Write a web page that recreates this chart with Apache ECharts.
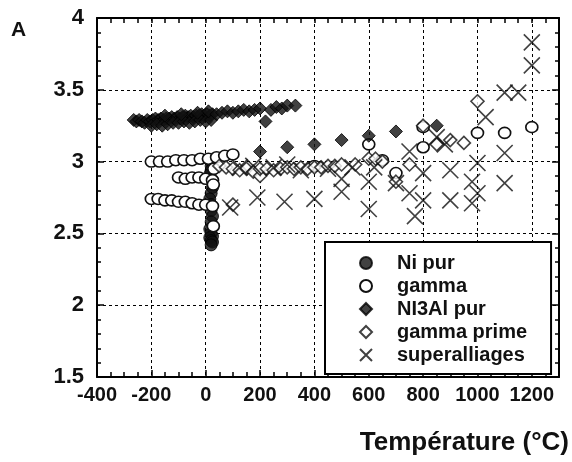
<!DOCTYPE html>
<html>
<head>
<meta charset="utf-8">
<script src="https://cdn.jsdelivr.net/npm/echarts@6/dist/echarts.min.js"></script>
<style>html,body{margin:0;padding:0;background:#fff}#chart{width:572px;height:462px}</style>
</head>
<body>
<div id="chart"></div>
<script>
// x tick labels (°C) and y tick labels (A)
const xTicks = [-400, -200, 0, 200, 400, 600, 800, 1000, 1200];
const yTicks = [1.5, 2, 2.5, 3, 3.5, 4];
const seriesNames = ['Ni pur', 'gamma', 'NI3Al pur', 'gamma prime', 'superalliages'];

// Ni pur (filled circles)
const niPur = [[20,3.00],[20,2.97],[20,2.94],[15,2.91],[20,2.88],[25,2.82],[20,2.78],[15,2.74],[20,2.70],[20,2.66],[25,2.62],[20,2.58],[15,2.53],[20,2.50],[25,2.48],[15,2.47],[20,2.45],[25,2.44],[20,2.42]];

// gamma (open circles)
const gamma = [[-200,3.00],[-170,3.00],[-140,3.00],[-110,3.01],[-80,3.01],[-50,3.01],[-20,3.02],[10,3.02],[40,3.03],[70,3.04],[100,3.05],
  [-100,2.89],[-75,2.88],[-50,2.89],[-25,2.89],[0,2.88],[25,2.87],
  [-200,2.74],[-175,2.74],[-150,2.73],[-125,2.73],[-100,2.72],[-75,2.72],[-50,2.71],[-25,2.70],[0,2.70],[25,2.69],
  [30,2.95],[28,2.84],[28,2.55],
  [400,2.97],[600,3.12],[650,3.01],[700,2.92],[800,3.24],[800,3.10],[1000,3.20],[1100,3.20],[1200,3.24]];

// NI3Al pur (filled diamonds)
const ni3al = [[-265,3.29],[-255,3.28],[-245,3.29],[-235,3.28],[-225,3.27],[-215,3.29],[-205,3.28],[-195,3.29],[-185,3.30],[-175,3.29],[-165,3.30],[-155,3.29],[-145,3.30],[-135,3.30],[-125,3.31],[-115,3.30],[-105,3.31],[-95,3.30],[-85,3.31],[-75,3.32],[-65,3.31],[-55,3.32],[-45,3.31],[-35,3.32],[-25,3.32],[-15,3.33],[-5,3.32],[5,3.33],[15,3.32],[25,3.33],
  [-200,3.25],[-180,3.26],[-160,3.25],[-140,3.26],[-120,3.27],[-100,3.27],[-80,3.28],[-60,3.27],[-40,3.28],[-20,3.29],[0,3.28],[20,3.29],
  [-150,3.32],[-90,3.33],[-30,3.34],[10,3.35],
  [40,3.33],[60,3.34],[80,3.35],[100,3.34],[120,3.35],[140,3.36],[160,3.35],[180,3.36],[200,3.37],[220,3.28],[240,3.36],[260,3.38],[280,3.37],[300,3.39],[330,3.39],
  [200,3.07],[300,3.10],[400,3.12],[500,3.15],[600,3.18],[700,3.21],[850,3.25]];

// gamma prime (open diamonds)
const gammaPrime = [[50,2.97],[75,2.96],[100,2.95],[100,2.70],[125,2.94],[150,2.95],[175,2.93],[200,2.90],[200,2.95],[225,2.95],[250,2.94],[275,2.95],[300,2.96],[325,2.95],[350,2.96],[375,2.95],[400,2.96],[425,2.96],[450,2.97],[475,2.97],[500,2.98],[550,2.98],[600,3.02],[625,3.02],[650,3.00],[700,2.86],[750,2.98],[800,3.25],[850,3.12],[900,3.15],[950,3.13],[1000,3.42]];

// superalliages (crosses)
const superalliages = [[90,2.68],[190,2.75],[290,2.72],[400,2.74],[500,2.88],[500,2.79],[600,2.86],[600,2.67],[700,2.85],[750,2.78],[770,2.62],[800,2.92],[800,2.73],[750,3.07],[900,2.94],[900,2.73],[1000,2.99],[980,2.86],[1000,2.78],[980,2.71],[1100,3.06],[1100,2.85],[1030,3.31],[1100,3.48],[1150,3.48],[1200,3.83],[1200,3.67],
  [125,2.96],[175,2.97],[250,2.96],[300,2.98],[350,2.94],[450,2.95],[540,2.96],[620,2.96],[850,3.17],[880,3.12]];

const chart = echarts.init(document.getElementById('chart'), null, {renderer: 'canvas'});
const gridLine = {show: true, lineStyle: {color: '#000', width: 1, type: [3, 3]}};
const cross = 'path://M0,0L10,10M10,0L0,10';
const tickFontX = {fontFamily: "'Liberation Sans', Arial, sans-serif", fontWeight: 'bold', fontSize: 20, color: '#111'};
const tickFontY = {fontFamily: "'Liberation Sans', Arial, sans-serif", fontWeight: 'bold', fontSize: 22, color: '#111'};

const option = {
  animation: false,
  backgroundColor: '#fff',
  grid: {left: 97, right: 13, top: 18, bottom: 85, containLabel: false},
  xAxis: [
    {type: 'value', position: 'bottom', min: -400, max: 1300, interval: 200,
     axisLine: {show: true, onZero: false, lineStyle: {color: '#000', width: 2}},
     axisTick: {show: true, inside: true, length: 7, lineStyle: {color: '#000', width: 1.5}},
     axisLabel: {show: true, margin: 8, showMaxLabel: false,
       formatter: v => xTicks.includes(v) ? String(v) : '', ...tickFontX},
     splitLine: gridLine},
    {type: 'value', position: 'bottom', min: -400, max: 1300, interval: 50,
     axisLine: {show: false, onZero: false}, axisLabel: {show: false}, splitLine: {show: false},
     axisTick: {show: true, inside: true, length: 5, lineStyle: {color: '#000', width: 1.5}}},
    {type: 'value', position: 'top', min: -400, max: 1300, interval: 50,
     axisLine: {show: true, onZero: false, lineStyle: {color: '#000', width: 2}}, axisLabel: {show: false}, splitLine: {show: false},
     axisTick: {show: true, inside: true, length: 5, lineStyle: {color: '#000', width: 1.5}}}
  ],
  yAxis: [
    {type: 'value', position: 'left', min: 1.5, max: 4, interval: 0.5,
     axisLine: {show: true, onZero: false, lineStyle: {color: '#000', width: 2}},
     axisTick: {show: true, inside: true, length: 7, lineStyle: {color: '#000', width: 1.5}},
     minorTick: {show: true, splitNumber: 5, length: 4, lineStyle: {color: '#000', width: 1.5}},
     axisLabel: {show: true, margin: 13, formatter: v => yTicks.includes(v) ? String(v) : '', ...tickFontY},
     splitLine: gridLine},
    {type: 'value', position: 'right', min: 1.5, max: 4, interval: 0.5,
     axisLine: {show: true, onZero: false, lineStyle: {color: '#000', width: 2}},
     axisTick: {show: true, inside: true, length: 7, lineStyle: {color: '#000', width: 1.5}},
     minorTick: {show: true, splitNumber: 5, length: 4, lineStyle: {color: '#000', width: 1.5}},
     axisLabel: {show: false}, splitLine: {show: false}}
  ],
  legend: {
    orient: 'vertical', left: 325, top: 242,
    data: seriesNames,
    backgroundColor: '#fff', borderColor: '#000', borderWidth: 2, borderRadius: 0,
    padding: [11, 24, 9, 34],
    itemWidth: 12, itemHeight: 12, itemGap: 3,
    textStyle: {fontFamily: "'Liberation Sans', Arial, sans-serif", fontWeight: 'bold', fontSize: 20, color: '#111', padding: [0, 0, 0, 20]},
    z: 10
  },
  series: [
    {name: seriesNames[0], type: 'scatter', data: niPur, symbol: 'circle', symbolSize: 12,
     itemStyle: {color: '#111', borderColor: '#000', borderWidth: 1}},
    {name: seriesNames[1], type: 'scatter', data: gamma, symbol: 'circle', symbolSize: [12, 11],
     itemStyle: {color: '#fff', borderColor: '#111', borderWidth: 1.6, opacity: 1}},
    {name: seriesNames[2], type: 'scatter', data: ni3al, symbol: 'diamond', symbolSize: 13,
     itemStyle: {color: '#111', borderColor: '#000', borderWidth: 1}},
    {name: seriesNames[3], type: 'scatter', data: gammaPrime, symbol: 'diamond', symbolSize: 13,
     itemStyle: {color: '#fff', borderColor: '#111', borderWidth: 1.6}},
    {name: seriesNames[4], type: 'scatter', data: superalliages, symbol: cross, symbolSize: 16,
     itemStyle: {color: 'rgba(0,0,0,0)', borderColor: '#111', borderWidth: 1.6}}
  ],
  graphic: [
    {type: 'text', left: 11, top: 20, style: {text: 'A', font: "bold 21px 'Liberation Sans', Arial, sans-serif", fill: '#111'}},
    {type: 'text', right: 3, top: 430, style: {text: 'Température (°C)', font: "bold 26px 'Liberation Sans', Arial, sans-serif", fill: '#111'}}
  ]
};
chart.setOption(option);
</script>
</body>
</html>
